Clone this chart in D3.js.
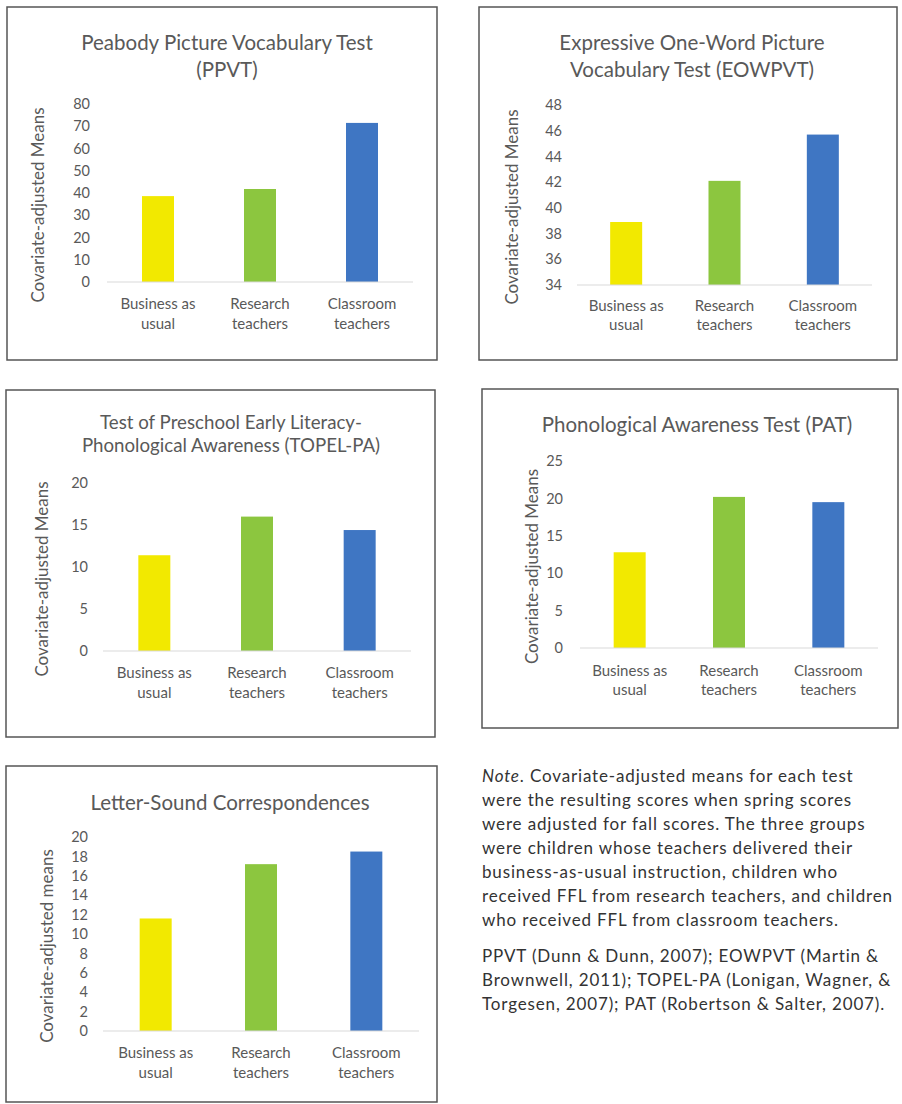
<!DOCTYPE html>
<html>
<head>
<meta charset="utf-8">
<script src="https://cdn.jsdelivr.net/npm/d3@7/dist/d3.min.js"></script>
<style>
  html, body { margin: 0; padding: 0; background: #fff; }
  svg { display: block; }
</style>
</head>
<body>
<div id="chart"></div>
<script>
// Données
const categories = [["Business as", "usual"], ["Research", "teachers"], ["Classroom", "teachers"]];

const ppvtTitle = ["Peabody Picture Vocabulary Test", "(PPVT)"];
const ppvtValues = [38.6, 41.8, 71.5];
const ppvtTicks = [0, 10, 20, 30, 40, 50, 60, 70, 80];

const eowpvtTitle = ["Expressive One-Word Picture", "Vocabulary Test (EOWPVT)"];
const eowpvtValues = [38.9, 42.1, 45.7];
const eowpvtTicks = [34, 36, 38, 40, 42, 44, 46, 48];

const topelTitle = ["Test of Preschool Early Literacy-", "Phonological Awareness (TOPEL-PA)"];
const topelValues = [11.4, 16.0, 14.4];
const topelTicks = [0, 5, 10, 15, 20];

const patTitle = ["Phonological Awareness Test (PAT)"];
const patValues = [12.8, 20.2, 19.5];
const patTicks = [0, 5, 10, 15, 20, 25];

const lscTitle = ["Letter-Sound Correspondences"];
const lscValues = [11.6, 17.2, 18.5];
const lscTicks = [0, 2, 4, 6, 8, 10, 12, 14, 16, 18, 20];

const noteLines = [
    "were the resulting scores when spring scores",
    "were adjusted for fall scores. The three groups",
    "were children whose teachers delivered their",
    "business-as-usual instruction, children who",
    "received FFL from research teachers, and children",
    "who received FFL from classroom teachers."
];
const refLines = [
    "PPVT (Dunn & Dunn, 2007); EOWPVT (Martin &",
    "Brownwell, 2011); TOPEL-PA (Lonigan, Wagner, &",
    "Torgesen, 2007); PAT (Robertson & Salter, 2007)."
];

const barColors = ["#f2e900", "#8cc63f", "#3f76c3"];
const textColor = "#595959";
const font = "Lato, 'Open Sans', sans-serif";

// Mise en page des panneaux
const panels = [
    { title: ppvtTitle, values: ppvtValues, ticks: ppvtTicks, yLabel: "Covariate-adjusted Means",
      frame: [7, 7, 437, 360], x: [107, 413], y: [282, 104], titleX: 227, titleY: [43, 70], titleSize: 20.5,
      tickX: 90, yLabelX: 38, catY: [304, 324] },
    { title: eowpvtTitle, values: eowpvtValues, ticks: eowpvtTicks, yLabel: "Covariate-adjusted Means",
      frame: [479, 7, 897, 360], x: [577, 872], y: [285, 105], titleX: 692, titleY: [43, 70], titleSize: 20.5,
      tickX: 562, yLabelX: 512, catY: [306, 325] },
    { title: topelTitle, values: topelValues, ticks: topelTicks, yLabel: "Covariate-adjusted Means",
      frame: [6, 390, 435, 737], x: [103, 411], y: [651, 483], titleX: 231, titleY: [422, 445], titleSize: 18.7,
      tickX: 88, yLabelX: 42, catY: [673, 693] },
    { title: patTitle, values: patValues, ticks: patTicks, yLabel: "Covariate-adjusted Means",
      frame: [482, 389, 898, 728], x: [580, 878], y: [648, 461], titleX: 697, titleY: [425], titleSize: 20.5,
      tickX: 563, yLabelX: 532, catY: [671, 690] },
    { title: lscTitle, values: lscValues, ticks: lscTicks, yLabel: "Covariate-adjusted means",
      frame: [6, 766, 437, 1102], x: [103, 419], y: [1031, 837], titleX: 230, titleY: [803], titleSize: 20.5,
      tickX: 88, yLabelX: 47, catY: [1053, 1073] }
];

const svg = d3.select("#chart")
    .append("svg")
    .attr("width", 902)
    .attr("height", 1104)
    .style("font-family", font);

panels.forEach(p => {
    const g = svg.append("g");

    // Cadre
    g.append("rect")
        .attr("x", p.frame[0])
        .attr("y", p.frame[1])
        .attr("width", p.frame[2] - p.frame[0])
        .attr("height", p.frame[3] - p.frame[1])
        .attr("fill", "#fff")
        .attr("stroke", "#555")
        .attr("stroke-width", 1.5);

    // Titre
    p.title.forEach((line, i) => {
        g.append("text")
            .attr("x", p.titleX)
            .attr("y", p.titleY[i])
            .attr("dy", "0.35em")
            .attr("text-anchor", "middle")
            .attr("fill", textColor)
            .attr("font-size", p.titleSize + "px")
            .text(line);
    });

    const step = (p.x[1] - p.x[0]) / categories.length;
    const pad = 1 - 32 / step;
    const x = d3.scaleBand()
        .domain(d3.range(categories.length))
        .range(p.x)
        .paddingInner(pad)
        .paddingOuter(pad / 2);

    const y = d3.scaleLinear()
        .domain(d3.extent(p.ticks))
        .range(p.y);

    // Axe vertical (étiquettes seulement)
    const yAxis = g.append("g")
        .attr("transform", `translate(${p.tickX},0)`)
        .call(d3.axisLeft(y).tickValues(p.ticks).tickSize(0).tickPadding(0));
    yAxis.select(".domain").remove();
    yAxis.selectAll("text")
        .attr("fill", textColor)
        .attr("font-size", "14.5px")
        .attr("font-family", font)
        .attr("text-anchor", "end");

    // Barres
    g.selectAll(".bar")
        .data(p.values)
        .enter()
        .append("rect")
        .attr("class", "bar")
        .attr("x", (d, i) => x(i))
        .attr("y", d => y(d))
        .attr("width", x.bandwidth())
        .attr("height", d => y(p.ticks[0]) - y(d))
        .attr("fill", (d, i) => barColors[i]);

    // Ligne de base
    g.append("line")
        .attr("x1", p.x[0])
        .attr("x2", p.x[1])
        .attr("y1", y(p.ticks[0]))
        .attr("y2", y(p.ticks[0]))
        .attr("stroke", "#d9d9d9")
        .attr("stroke-width", 1);

    // Catégories
    categories.forEach((lines, i) => {
        lines.forEach((line, j) => {
            g.append("text")
                .attr("x", x(i) + x.bandwidth() / 2)
                .attr("y", p.catY[j])
                .attr("dy", "0.35em")
                .attr("text-anchor", "middle")
                .attr("fill", textColor)
                .attr("font-size", "15px")
                .text(line);
        });
    });

    // Titre de l'axe Y
    const cy = (p.y[0] + p.y[1]) / 2 + 12;
    g.append("text")
        .attr("transform", `translate(${p.yLabelX},${cy}) rotate(-90)`)
        .attr("dy", "0.35em")
        .attr("text-anchor", "middle")
        .attr("fill", textColor)
        .attr("font-size", "17px")
        .text(p.yLabel);
});

// Note
const note = svg.append("g")
    .attr("fill", "#333")
    .attr("font-size", "17px")
    .attr("letter-spacing", "0.85px");
const noteFirst = note.append("text").attr("x", 482).attr("y", 782);
noteFirst.append("tspan").attr("font-style", "italic").text("Note");
noteFirst.append("tspan").text(". Covariate-adjusted means for each test");
noteLines.forEach((line, i) => {
    note.append("text").attr("x", 482).attr("y", 806 + i * 24).text(line);
});
refLines.forEach((line, i) => {
    note.append("text").attr("x", 482).attr("y", 962 + i * 24).text(line);
});
</script>
</body>
</html>
